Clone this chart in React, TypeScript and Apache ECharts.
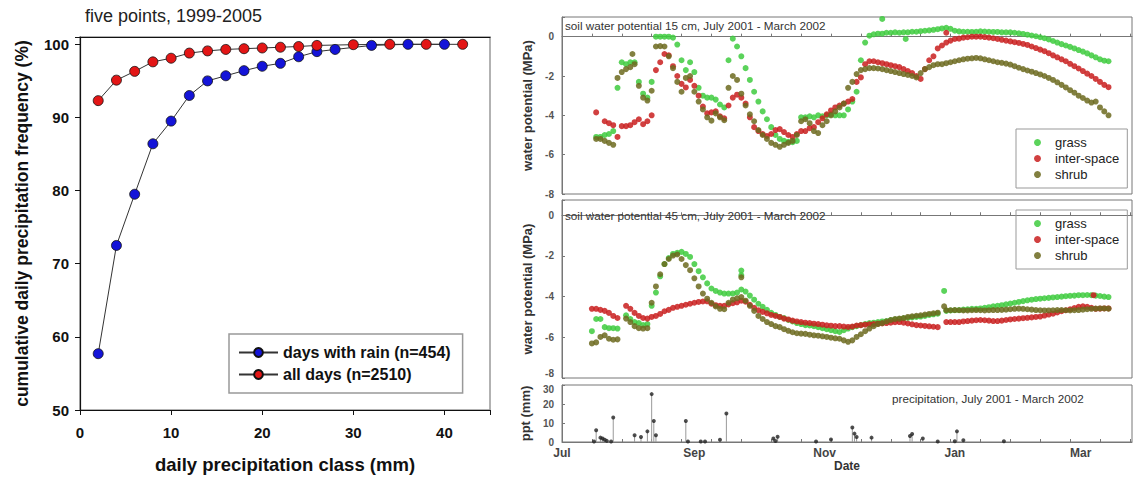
import React, { useEffect, useRef } from 'react';
import * as echarts from 'echarts';

// ---------- left chart ----------
const rainX = [2, 4, 6, 8, 10, 12, 14, 16, 18, 20, 22, 24, 26, 28, 32, 36, 40];
const rainY = [57.7, 72.5, 79.5, 86.4, 89.5, 93.0, 95.0, 95.7, 96.4, 97.0, 97.4, 98.3, 99.0, 99.3, 99.85, 100, 100];
const allX = [2, 4, 6, 8, 10, 12, 14, 16, 18, 20, 22, 24, 26, 30, 34, 38, 42];
const allY = [92.3, 95.1, 96.3, 97.6, 98.1, 98.8, 99.1, 99.3, 99.4, 99.5, 99.6, 99.7, 99.85, 99.95, 100, 100, 100];

// ---------- right panels: day index since 1 July 2001, every 2 days ----------
const DAY_COUNT = 268;
const monthTickDays = [0, 62, 123, 184, 243];
const monthTickLabels = ['Jul', 'Sep', 'Nov', 'Jan', 'Mar'];

const start15 = 16;
const grass15 = [-5.1, -5.1, -5.0, -4.95, -4.8, -2.6, -1.3, -1.4, -1.3, -1.3, -2.3, -2.9, -3.1, -2.3, 0.0, 0.0, 0.0, 0.0, -0.05, -0.4, -1.2, -1.7, -1.3, -1.8, -2.6, -3.0, -3.1, -3.1, -3.2, -3.45, -3.6, -1.2, -0.1, -0.5, -1.0, -1.6, -2.2, -2.8, -3.3, -3.8, -4.2, -4.6, -5.0, -5.2, -5.3, -5.35, -5.37, -5.3, -4.1, -4.1, -4.05, -4.1, -4.0, -4.05, -4.0, -3.95, -4.0, -4.0, -4.0, -3.7, -3.3, -2.8, -1.2, -0.3, 0.05, 0.12, 0.15, 0.15, 0.2, 0.2, 0.22, 0.2, 0.22, 0.22, 0.25, 0.25, 0.28, 0.3, 0.32, 0.35, 0.38, 0.42, 0.45, 0.4, 0.3, 0.27, 0.25, 0.25, 0.24, 0.25, 0.27, 0.26, 0.25, 0.24, 0.24, 0.22, 0.22, 0.22, 0.2, 0.17, 0.14, 0.1, 0.06, 0.02, -0.03, -0.08, -0.14, -0.22, -0.3, -0.38, -0.45, -0.52, -0.6, -0.68, -0.76, -0.85, -0.95, -1.05, -1.15, -1.22, -1.25];
const inter15 = [-3.85, null, -4.3, -4.4, -4.5, -5.1, -4.55, -4.55, -4.5, -4.35, -4.2, -4.45, -4.3, -4.0, -1.7, -1.3, -0.88, -0.95, -1.5, -2.0, -2.4, -2.58, -2.2, -2.5, -3.0, -3.55, -3.9, -3.85, -3.8, -4.05, -4.15, -3.5, -3.1, -2.95, -3.1, -3.4, -4.1, -4.6, -4.8, -4.95, -5.05, -4.95, -4.75, -4.7, -4.85, -5.0, -5.1, -4.95, -4.8, -4.8, -4.65, -4.6, -4.35, -4.15, -3.95, -3.75, -3.6, -3.5, -3.4, -3.3, -3.17, -2.3, -2.07, -1.4, -1.25, -1.25, -1.3, -1.35, -1.4, -1.45, -1.5, -1.55, -1.65, -1.75, -1.85, -2.0, -2.15, -1.65, -1.2, -1.0, -0.6, -0.45, -0.3, -0.2, -0.12, -0.1, -0.05, -0.03, 0.0, 0.0, 0.0, -0.02, -0.05, -0.08, -0.12, -0.16, -0.2, -0.24, -0.28, -0.32, -0.37, -0.42, -0.5, -0.58, -0.66, -0.74, -0.84, -0.95, -1.05, -1.15, -1.25, -1.38, -1.5, -1.62, -1.75, -1.88, -2.0, -2.15, -2.3, -2.45, -2.57];
const shrub15 = [-5.2, -5.2, -5.3, -5.4, -5.5, -2.1, -1.8, -1.65, -1.55, -1.4, -2.5, -3.1, -3.25, -2.75, -0.5, -0.48, -0.5, -1.0, -1.6, -2.3, -2.8, -2.1, -2.0, -2.8, -3.3, -3.7, -4.1, -4.27, -3.9, -4.1, -4.25, -2.6, -2.0, -2.2, -2.9, -3.5, -3.95, -4.3, -4.75, -5.0, -5.2, -5.4, -5.5, -5.6, -5.5, -5.4, -5.3, -5.0, -4.3, -4.2, -4.4, -4.8, -4.9, -4.5, -4.3, -4.0, -3.8, -3.6, -3.4, -2.6, -2.3, -1.9, -1.7, -1.65, -1.6, -1.6, -1.62, -1.65, -1.7, -1.75, -1.8, -1.85, -1.9, -1.95, -2.0, -2.07, -1.85, -1.65, -1.55, -1.45, -1.4, -1.4, -1.35, -1.3, -1.25, -1.2, -1.15, -1.12, -1.1, -1.08, -1.1, -1.15, -1.2, -1.25, -1.3, -1.33, -1.37, -1.42, -1.5, -1.58, -1.65, -1.72, -1.78, -1.85, -1.92, -2.0, -2.1, -2.2, -2.32, -2.45, -2.58, -2.72, -2.85, -3.0, -3.12, -3.25, -3.35, -3.3, -3.6, -3.8, -4.0];
const grass15Extra = [[150, 0.9], [161, -0.12]];
const inter15Extra = [[180, 0.2]];
const shrub15Extra = [[33, -0.88]];

const start45 = 14;
const grass45 = [-5.7, -5.1, -5.1, -5.5, -5.55, -5.55, -5.57, null, -4.92, -5.1, -5.25, -5.3, -5.4, -5.35, -4.45, -3.8, -3.0, -2.4, -2.1, -1.9, -1.85, -1.8, -1.9, -2.05, -2.4, -2.75, -3.05, -3.35, -3.6, -3.72, -3.8, -3.85, -3.85, -3.85, -3.8, -3.65, -3.75, -3.95, -4.15, -4.35, -4.5, -4.65, -4.8, -4.9, -5.0, -5.05, -5.15, -5.22, -5.3, -5.35, -5.4, -5.42, -5.45, -5.5, -5.55, -5.6, -5.65, -5.7, -5.74, -5.65, -5.57, -5.5, -5.45, -5.4, -5.35, -5.3, -5.28, -5.25, -5.22, -5.2, -5.15, -5.12, -5.1, -5.07, -5.05, -5.02, -5.0, -4.98, -4.95, -4.9, -4.87, -4.84, null, -4.7, -4.68, -4.67, -4.66, -4.64, -4.62, -4.6, -4.6, -4.58, -4.55, -4.52, -4.48, -4.45, -4.42, -4.38, -4.34, -4.3, -4.26, -4.22, -4.18, -4.15, -4.12, -4.1, -4.08, -4.06, -4.04, -4.02, -4.0, -3.98, -3.96, -3.95, -3.93, -3.93, -3.92, -3.93, -3.95, -3.97, -4.0, -4.02];
const inter45 = [-4.6, -4.6, -4.65, -4.7, -4.8, -4.95, -5.05, null, -4.45, -4.6, -4.8, -4.95, -5.05, -5.08, -5.0, -4.95, -4.85, -4.72, -4.65, -4.55, -4.5, -4.45, -4.4, -4.35, -4.3, -4.26, -4.24, -4.23, -4.35, -4.42, -4.45, -4.45, -4.38, -4.32, -4.28, -4.2, -4.25, -4.4, -4.55, -4.67, -4.75, -4.82, -4.9, -4.95, -5.0, -5.08, -5.12, -5.18, -5.22, -5.25, -5.28, -5.3, -5.33, -5.35, -5.38, -5.41, -5.43, -5.45, -5.45, -5.47, -5.49, -5.47, -5.42, -5.4, -5.38, -5.36, -5.35, -5.33, -5.32, -5.3, -5.28, -5.26, -5.25, -5.28, -5.32, -5.36, -5.4, -5.42, -5.44, -5.46, -5.48, -5.5, null, -5.25, -5.25, -5.25, -5.25, -5.22, -5.2, -5.18, -5.16, -5.15, -5.16, -5.18, -5.2, -5.2, -5.18, -5.15, -5.12, -5.1, -5.08, -5.06, -5.04, -5.02, -5.0, -4.98, -4.93, -4.88, -4.84, -4.78, -4.72, -4.67, -4.62, -4.56, -4.5, -4.48, -4.5, -4.55, -4.6, -4.59, -4.58, -4.58];
const shrub45 = [-6.3, -6.25, -5.98, -5.9, -6.07, -6.12, -6.1, null, -5.08, -5.25, -5.45, -5.55, -5.57, -5.55, -4.3, -3.5, -2.9, -2.4, -2.15, -1.98, -1.93, -2.15, -2.45, -2.7, -3.1, -3.5, -3.85, -4.1, -4.3, -4.48, -4.6, -4.62, -4.3, -4.15, -4.08, -4.02, -4.2, -4.45, -4.7, -4.95, -5.1, -5.25, -5.35, -5.45, -5.5, -5.6, -5.68, -5.75, -5.8, -5.82, -5.83, -5.87, -5.9, -5.92, -5.95, -5.98, -6.02, -6.05, -6.07, -6.15, -6.22, -6.15, -5.98, -5.85, -5.7, -5.57, -5.45, -5.35, -5.3, -5.22, -5.15, -5.1, -5.08, -5.05, -5.0, -4.97, -4.94, -4.92, -4.88, -4.85, -4.82, -4.79, null, -4.67, -4.67, -4.66, -4.67, -4.68, -4.68, -4.67, -4.66, -4.67, -4.68, -4.67, -4.66, -4.66, -4.65, -4.64, -4.62, -4.6, -4.59, -4.6, -4.62, -4.64, -4.66, -4.67, -4.68, -4.68, -4.67, -4.66, -4.66, -4.67, -4.68, -4.67, -4.66, -4.64, -4.62, -4.6, -4.59, -4.58, -4.58, -4.59];
const grass45Extra = [[84, -2.72], [84, -2.95], [179, -3.72]];
const inter45Extra = [[249, -3.93]];
const shrub45Extra = [[84, -3.05], [179, -4.48]];

const pptDays = [15, 16, 18, 19, 20, 21, 23, 24, 34, 37, 40, 42, 43, 44, 58, 59, 65, 67, 74, 77, 99, 100, 101, 119, 126, 136, 137, 138, 145, 163, 164, 169, 176, 184, 185, 188, 207];
const pptMM = [0.3, 6.2, 2.3, 1.8, 1.2, 0.6, 0.3, 12.9, 3.5, 2.6, 5.6, 25.2, 11.1, 3.5, 11.1, 0.3, 0.3, 0.3, 1.2, 15.0, 1.8, 0.5, 2.8, 0.3, 1.3, 7.6, 4.4, 2.6, 2.3, 3.2, 4.2, 1.8, 0.3, 0.4, 5.6, 0.9, 0.4];

const GREEN = '#3ecb3e';
const RED = '#c91f1f';
const SHRUB = '#6c6a1f';
const FONT = 'Liberation Sans, Arial, sans-serif';

const dayCategories = Array.from({ length: DAY_COUNT }, (_, i) => String(i));

function toPairs(start: number, arr: (number | null)[], extra: number[][]) {
  const out: number[][] = [];
  arr.forEach((v, i) => {
    if (v !== null) out.push([start + 2 * i, v]);
  });
  return out.concat(extra);
}

const tickLabelStyle = { fontSize: 10, fontWeight: 'bold', color: '#555', fontFamily: FONT };

function dayAxis(gridIndex: number, showLabels: boolean): any {
  return {
    type: 'category',
    gridIndex,
    data: dayCategories,
    boundaryGap: false,
    axisLine: { lineStyle: { color: '#777', width: 1 } },
    axisTick: { show: true, inside: true, length: 3, interval: (i: number) => i % 14 === 0, lineStyle: { color: '#777' } },
    axisLabel: showLabels
      ? {
          show: true,
          interval: (i: number) => monthTickDays.indexOf(i) >= 0,
          formatter: (_v: string, i: number) => {
            const k = monthTickDays.indexOf(i);
            return k >= 0 ? monthTickLabels[k] : '';
          },
          fontSize: 12,
          fontWeight: 'bold',
          color: '#444',
          margin: 5,
        }
      : { show: false },
    splitLine: { show: false },
    ...(showLabels
      ? { name: 'Date', nameLocation: 'middle', nameGap: 17, nameTextStyle: { fontSize: 12, fontWeight: 'bold', color: '#333' } }
      : {}),
  };
}

function wpAxis(gridIndex: number, max: number, liftMin: boolean): any {
  return {
    type: 'value',
    gridIndex,
    min: -8,
    max,
    interval: 2,
    axisLine: { show: true, lineStyle: { color: '#777' } },
    axisTick: { show: true, inside: true, length: 3, lineStyle: { color: '#777' } },
    axisLabel: {
      ...tickLabelStyle,
      margin: 8,
      formatter: (v: number) => {
        if (v > 0 || v % 2 !== 0) return '';
        if (liftMin && v === -8) return '{lo|-8}';
        return String(v);
      },
      rich: { lo: { ...tickLabelStyle, padding: [0, 0, 9, 0] } },
    },
    splitLine: { show: false },
    name: 'water potential (MPa)',
    nameLocation: 'middle',
    nameGap: 21,
    nameTextStyle: { fontSize: 13, fontWeight: 'bold', color: '#333' },
  };
}

function dots(name: string, color: string, xAxisIndex: number, yAxisIndex: number, data: number[][]): any {
  return {
    type: 'scatter',
    name,
    xAxisIndex,
    yAxisIndex,
    data,
    symbol: 'circle',
    symbolSize: 6,
    itemStyle: { color, opacity: 0.85 },
    silent: true,
  };
}

const sideLegend = (top: number): any => ({
  data: ['grass', 'inter-space', 'shrub'],
  orient: 'vertical',
  left: 1016,
  top,
  icon: 'circle',
  itemWidth: 7,
  itemHeight: 7,
  itemGap: 3,
  padding: [7, 8, 7, 18],
  borderColor: '#999',
  borderWidth: 1,
  selectedMode: false,
  textStyle: { fontFamily: FONT, fontSize: 13, color: '#222', lineHeight: 13, padding: [0, 0, 0, 9] },
});

const panelTitle = { fontFamily: FONT, fontSize: 11.7, fontWeight: 'normal', color: '#333' };

const option: any = {
  animation: false,
  backgroundColor: '#fff',
  textStyle: { fontFamily: FONT },
  title: [
    { text: 'five points, 1999-2005', left: 85, top: 7, padding: 0, textStyle: { fontFamily: FONT, fontSize: 18, fontWeight: 'normal', color: '#222' } },
    { text: 'soil water potential 15 cm, July 2001 - March 2002', left: 565, top: 19, padding: 0, textStyle: panelTitle },
    { text: 'soil water potential 45 cm, July 2001 - March 2002', left: 565, top: 209, padding: 0, textStyle: panelTitle },
    { text: 'precipitation, July 2001 - March 2002', left: 892, top: 392, padding: 0, textStyle: panelTitle },
  ],
  legend: [
    {
      data: ['days with rain (n=454)', 'all days (n=2510)'],
      orient: 'vertical',
      left: 229,
      top: 334,
      padding: [9, 12, 9, 9],
      itemWidth: 39,
      itemHeight: 11,
      itemGap: 3,
      borderColor: '#999',
      borderWidth: 1.5,
      selectedMode: false,
      textStyle: { fontFamily: FONT, fontSize: 16, fontWeight: 'bold', color: '#111', lineHeight: 19 },
    },
    sideLegend(129),
    sideLegend(210),
  ],
  grid: [
    { left: 80, top: 37, width: 410, height: 377, show: true, borderColor: '#999', borderWidth: 1.5, backgroundColor: 'transparent' },
    { left: 562, top: 17, width: 570, height: 177, show: true, borderColor: '#777', borderWidth: 1, backgroundColor: 'transparent' },
    { left: 562, top: 200, width: 570, height: 178, show: true, borderColor: '#777', borderWidth: 1, backgroundColor: 'transparent' },
    { left: 562, top: 385, width: 570, height: 57, show: true, borderColor: '#777', borderWidth: 1, backgroundColor: 'transparent' },
  ],
  xAxis: [
    {
      type: 'value',
      gridIndex: 0,
      min: 0,
      max: 45,
      interval: 10,
      axisLine: { show: true, lineStyle: { color: '#111', width: 1.2 } },
      axisTick: { show: true, inside: false, length: 5, lineStyle: { color: '#111' } },
      axisLabel: { fontSize: 15, fontWeight: 'bold', color: '#111', margin: 15, formatter: (v: number) => (v % 10 === 0 ? String(v) : '') },
      splitLine: { show: false },
      name: 'daily precipitation class (mm)',
      nameLocation: 'middle',
      nameGap: 45,
      nameTextStyle: { fontSize: 18.5, fontWeight: 'bold', color: '#111' },
    },
    {
      type: 'value',
      gridIndex: 0,
      position: 'top',
      min: 0,
      max: 45,
      interval: 10,
      axisLine: { show: true, lineStyle: { color: '#111', width: 1.2 } },
      axisTick: { show: false },
      axisLabel: { show: false },
      splitLine: { show: false },
    },
    dayAxis(1, false),
    dayAxis(2, false),
    dayAxis(3, true),
  ],
  yAxis: [
    {
      type: 'value',
      gridIndex: 0,
      min: 50,
      max: 101,
      interval: 10,
      axisLine: { show: true, lineStyle: { color: '#111', width: 1.2 } },
      axisTick: { show: true, inside: false, length: 5, lineStyle: { color: '#111' } },
      axisLabel: { fontSize: 15, fontWeight: 'bold', color: '#111', margin: 11, formatter: (v: number) => (v % 10 === 0 ? String(v) : '') },
      splitLine: { show: false },
      name: 'cumulative daily precipitation frequency (%)',
      nameLocation: 'middle',
      nameGap: 49,
      nameTextStyle: { fontSize: 17.5, fontWeight: 'bold', color: '#111' },
    },
    wpAxis(1, 1, false),
    wpAxis(2, 0.75, true),
    {
      type: 'value',
      gridIndex: 3,
      min: 0,
      max: 30,
      interval: 10,
      axisLine: { show: true, lineStyle: { color: '#777' } },
      axisTick: { show: true, inside: true, length: 3, lineStyle: { color: '#777' } },
      axisLabel: {
        ...tickLabelStyle,
        margin: 8,
        formatter: (v: number) => (v === 30 ? '{hi|30}' : String(v)),
        rich: { hi: { ...tickLabelStyle, padding: [9, 0, 0, 0] } },
      },
      splitLine: { show: false },
      name: 'ppt (mm)',
      nameLocation: 'middle',
      nameGap: 21,
      nameTextStyle: { fontSize: 13, fontWeight: 'bold', color: '#333' },
    },
  ],
  series: [
    {
      type: 'line',
      name: 'days with rain (n=454)',
      xAxisIndex: 0,
      yAxisIndex: 0,
      data: rainX.map((x, i) => [x, rainY[i]]),
      symbol: 'circle',
      symbolSize: 10,
      showAllSymbol: true,
      lineStyle: { color: '#333', width: 1 },
      itemStyle: { color: '#1414d8', borderColor: '#111', borderWidth: 0.8 },
      z: 3,
    },
    {
      type: 'line',
      name: 'all days (n=2510)',
      xAxisIndex: 0,
      yAxisIndex: 0,
      data: allX.map((x, i) => [x, allY[i]]),
      symbol: 'circle',
      symbolSize: 10,
      showAllSymbol: true,
      lineStyle: { color: '#333', width: 1 },
      itemStyle: { color: '#e31616', borderColor: '#111', borderWidth: 0.8 },
      z: 3,
    },
    dots('grass', GREEN, 2, 1, toPairs(start15, grass15, grass15Extra)),
    dots('inter-space', RED, 2, 1, toPairs(start15, inter15, inter15Extra)),
    dots('shrub', SHRUB, 2, 1, toPairs(start15, shrub15, shrub15Extra)),
    dots('grass', GREEN, 3, 2, toPairs(start45, grass45, grass45Extra)),
    dots('inter-space', RED, 3, 2, toPairs(start45, inter45, inter45Extra)),
    dots('shrub', SHRUB, 3, 2, toPairs(start45, shrub45, shrub45Extra)),
    {
      type: 'bar',
      name: 'ppt-stem',
      xAxisIndex: 4,
      yAxisIndex: 3,
      data: pptDays.map((d, i) => [d, pptMM[i]]),
      barWidth: 1,
      itemStyle: { color: '#999' },
      silent: true,
    },
    {
      type: 'scatter',
      name: 'ppt',
      xAxisIndex: 4,
      yAxisIndex: 3,
      data: pptDays.map((d, i) => [d, pptMM[i]]),
      symbolSize: 4,
      itemStyle: { color: '#222' },
      silent: true,
    },
  ],
};

export default function App() {
  const ref = useRef<HTMLDivElement>(null);
  useEffect(() => {
    const chart = echarts.init(ref.current!, null, { renderer: 'svg' });
    chart.setOption(option);
    return () => chart.dispose();
  }, []);
  return (
    <div
      ref={ref}
      style={{ position: 'fixed', left: 0, top: 0, width: 1138, height: 479, background: '#fff' }}
    />
  );
}
